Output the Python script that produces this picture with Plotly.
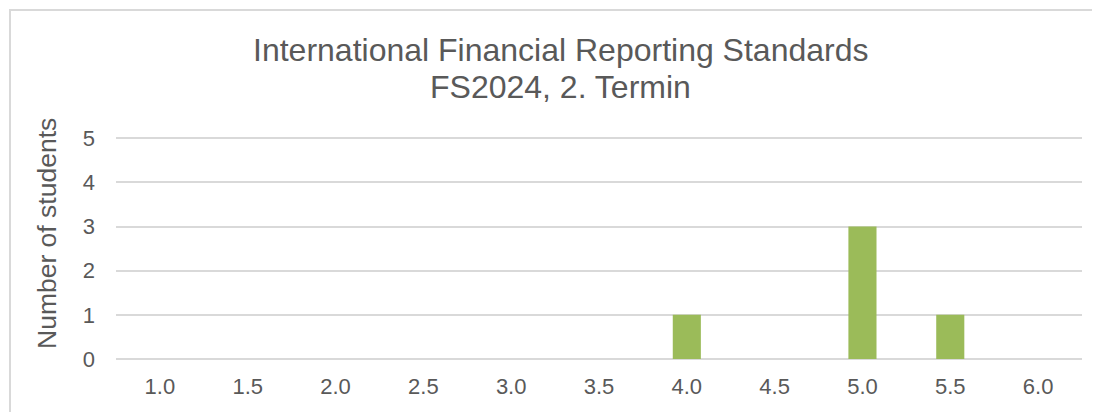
import plotly.graph_objects as go

grades = ["1.0", "1.5", "2.0", "2.5", "3.0", "3.5", "4.0", "4.5", "5.0", "5.5", "6.0"]
students = [0, 0, 0, 0, 0, 0, 1, 0, 3, 1, 0]
title_lines = ["International Financial Reporting Standards", "FS2024, 2. Termin"]
y_title = "Number of students"

# page body has an 8px margin, so the figure is sized to fit inside the window
W, H = 1092, 404
L, R, T, B = 108, 18, 128, 53
pw, ph = W - L - R, H - T - B

FONT = "Liberation Sans, Arial, sans-serif"
GREY = "#595959"
GRID = "#D9D9D9"

fig = go.Figure(go.Bar(x=grades, y=students, marker=dict(color="#9BBB59", line=dict(width=0))))

fig.update_layout(
    width=W, height=H,
    margin=dict(l=L, r=R, t=T, b=B, autoexpand=False),
    paper_bgcolor="white", plot_bgcolor="white",
    bargap=0.68,
    showlegend=False,
    font=dict(family=FONT, color=GREY, size=22),
)
fig.update_xaxes(type="category", showgrid=False, showline=False, zeroline=False,
                 ticks="", ticklabelstandoff=12, tickfont=dict(size=22, color=GREY))
fig.update_yaxes(range=[0, 5.05], dtick=1, showgrid=True, gridcolor=GRID, gridwidth=2,
                 zeroline=True, zerolinecolor=GRID, zerolinewidth=2, showline=False,
                 ticks="", ticklabelstandoff=20, tickfont=dict(size=22, color=GREY))

# chart title (two lines)
for line, yc in zip(title_lines, [42, 79]):
    fig.add_annotation(text=line, xref="paper", yref="paper",
                       x=(552 - L) / pw, y=(H - B - yc) / ph,
                       xanchor="center", yanchor="middle", showarrow=False,
                       font=dict(family=FONT, size=32, color=GREY))

# y axis title
fig.add_annotation(text=y_title, xref="paper", yref="paper",
                   x=(39 - L) / pw, y=(H - B - 226) / ph, textangle=-90,
                   xanchor="center", yanchor="middle", showarrow=False,
                   font=dict(family=FONT, size=26.5, color=GREY))

# chart border (in paper coordinates)
fig.add_shape(type="rect", xref="paper", yref="paper",
              x0=(2 - L) / pw, x1=(W + 5 - L) / pw,
              y0=-(B + 5) / ph, y1=(H - B - 2) / ph,
              line=dict(color=GRID, width=2), fillcolor="rgba(0,0,0,0)", layer="below")

fig.write_html("out.html")
